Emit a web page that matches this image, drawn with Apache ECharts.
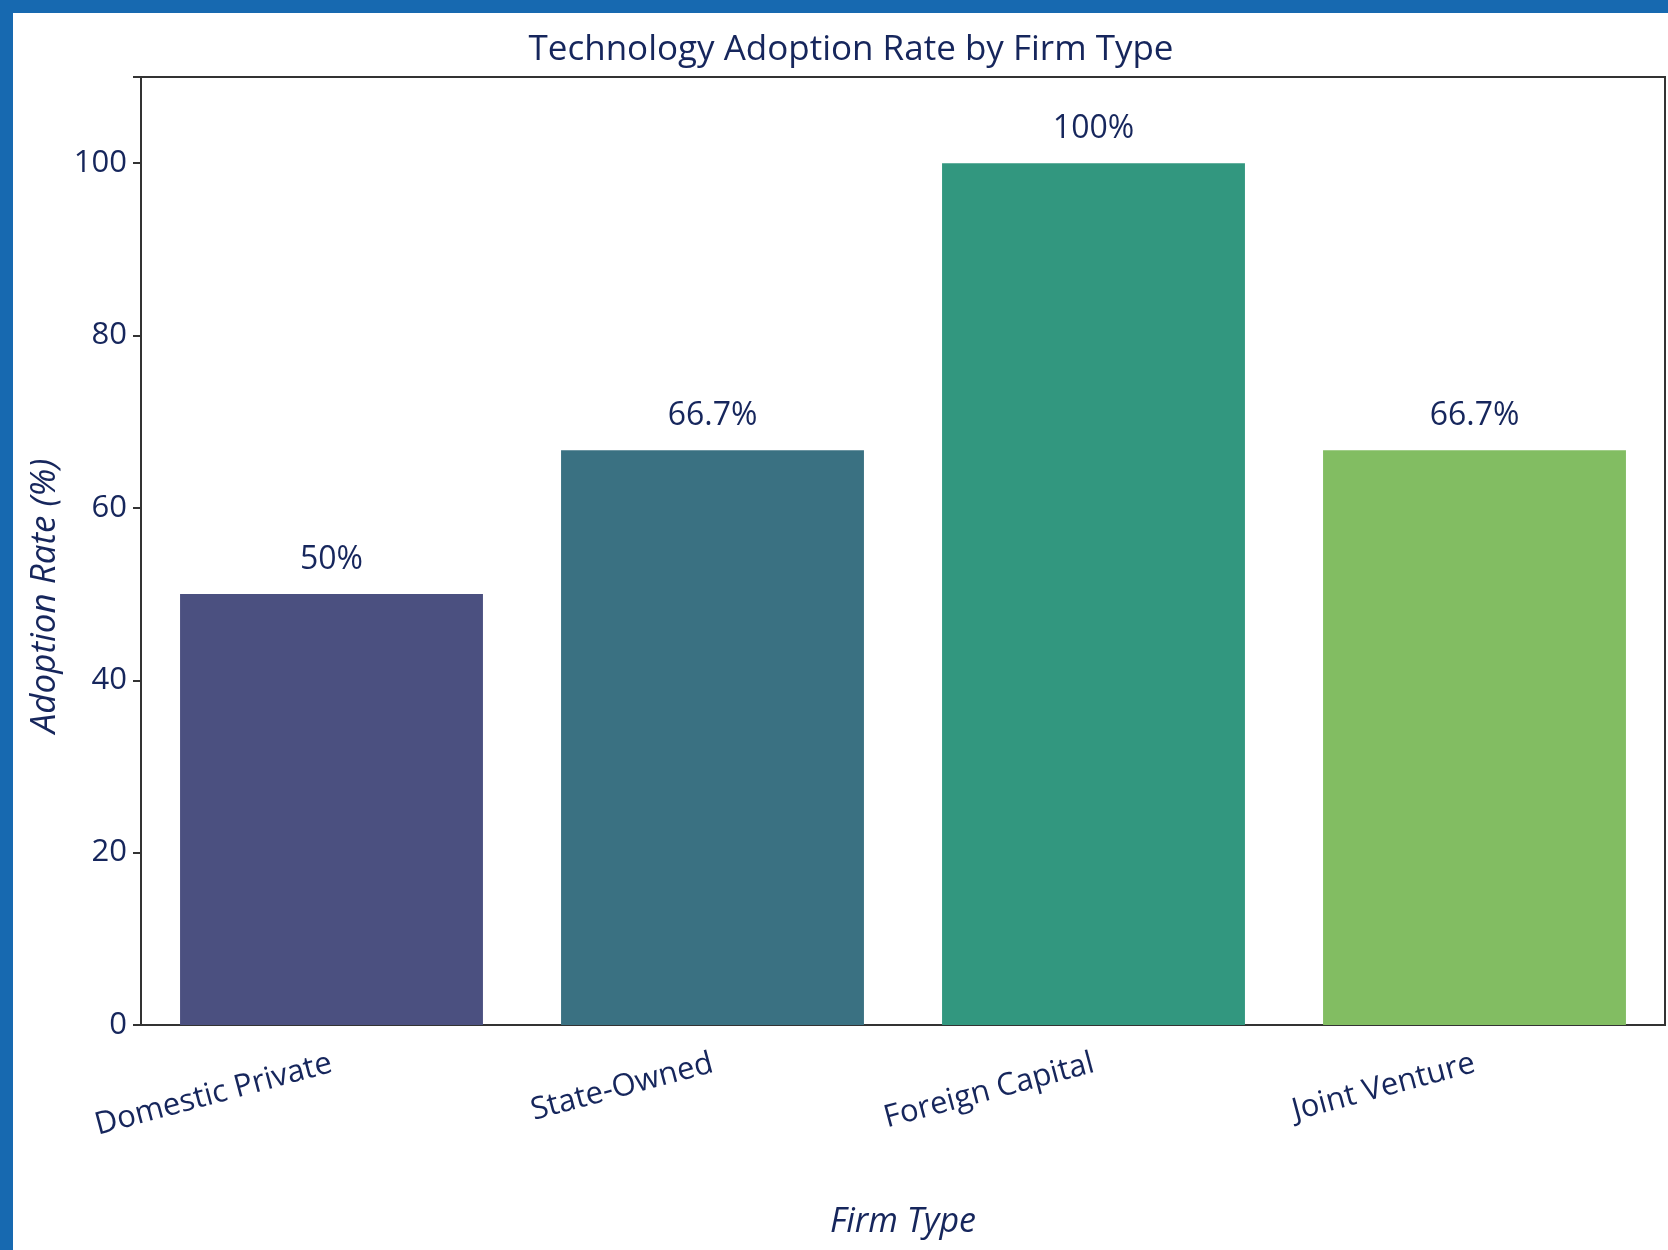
<!DOCTYPE html>
<html>
<head>
<meta charset="utf-8">
<script src="https://cdn.jsdelivr.net/npm/echarts@6/dist/echarts.min.js"></script>
<style>
  html, body { margin: 0; padding: 0; background: #ffffff; }
  #chart { width: 1668px; height: 1250px; background: #ffffff; box-shadow: inset 13px 13px 0 #1769B0; }
</style>
</head>
<body>
<div id="chart"></div>
<script>
const categories = ["Domestic Private", "State-Owned", "Foreign Capital", "Joint Venture"];
const adoptionRates = [50, 66.7, 100, 66.7];
const valueLabels = ["50%", "66.7%", "100%", "66.7%"];
const barColors = ["#4b5080", "#3a7182", "#32977f", "#82bd62"];

const textColor = "#16265c";
const fontFamily = "'Open Sans', 'Noto Sans', sans-serif";

const chart = echarts.init(document.getElementById('chart'), null, { renderer: 'canvas' });
chart.setOption({
  animation: false,
  title: {
    text: "Technology Adoption Rate by Firm Type",
    left: 846, top: 28, textAlign: 'center',
    textStyle: { color: textColor, fontSize: 35, fontWeight: 'normal', fontFamily }
  },
  grid: {
    left: 141, right: 3, top: 77, bottom: 225,
    show: true, borderColor: '#333333', borderWidth: 2, backgroundColor: 'transparent'
  },
  xAxis: {
    type: 'category',
    data: categories,
    name: 'Firm Type',
    nameLocation: 'middle',
    nameGap: 180,
    nameTextStyle: { color: textColor, fontSize: 34, fontStyle: 'italic', fontFamily },
    axisLine: { lineStyle: { color: '#333333', width: 2 } },
    axisTick: { alignWithLabel: true, length: 8, lineStyle: { color: '#333333', width: 2 } },
    axisLabel: { rotate: 15, margin: 38, color: textColor, fontSize: 31, fontFamily }
  },
  yAxis: {
    type: 'value',
    min: 0, max: 110, interval: 20,
    name: 'Adoption Rate (%)',
    nameLocation: 'middle',
    nameGap: 71,
    nameTextStyle: { color: textColor, fontSize: 35, fontStyle: 'italic', fontFamily, padding: [0, 90, 0, 0] },
    splitLine: { show: false },
    axisLine: { show: true, lineStyle: { color: '#333333', width: 2 } },
    axisTick: { show: true, length: 8, lineStyle: { color: '#333333', width: 2 } },
    axisLabel: {
      margin: 14, color: textColor, fontSize: 31, fontFamily,
      formatter: v => (v > 100 ? '' : String(v))
    }
  },
  series: [{
    type: 'bar',
    barWidth: '79.5%',
    data: adoptionRates.map((v, i) => ({ value: v, itemStyle: { color: barColors[i] } })),
    label: {
      show: true, position: 'top', distance: 18,
      color: textColor, fontSize: 32, fontFamily,
      formatter: p => valueLabels[p.dataIndex]
    }
  }]
});
</script>
</body>
</html>
